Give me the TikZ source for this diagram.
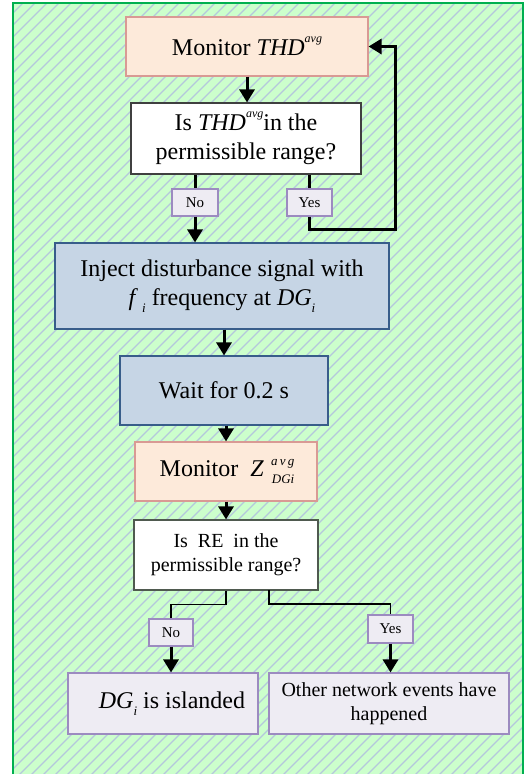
\documentclass[tikz,border=0pt]{standalone}
\usepackage{fontspec}
\setmainfont{Liberation Serif}
\usetikzlibrary{arrows.meta}
\definecolor{bggreen}{HTML}{CCFFCC}
\definecolor{hatchc}{HTML}{B4C8DC}
\definecolor{frameg}{HTML}{00B050}
\definecolor{peachf}{HTML}{FDEADA}
\definecolor{peachd}{HTML}{D99A94}
\definecolor{bluef}{HTML}{C6D5E5}
\definecolor{blued}{HTML}{385D8A}
\definecolor{lavf}{HTML}{EEECF3}
\definecolor{lavd}{HTML}{9C8BC0}
\definecolor{grayd}{HTML}{404040}
\definecolor{grayg}{HTML}{4F5A4F}
\newcommand{\supit}[1]{\raisebox{0.55em}{\fontsize{12}{12}\selectfont\itshape #1}}
\newcommand{\subit}[1]{\raisebox{-0.3em}{\fontsize{13}{13}\selectfont\itshape #1}}
\newcommand{\stackit}[2]{\raisebox{-7pt}{\fontsize{13}{13}\selectfont\itshape #2}\llap{\raisebox{11.5pt}{\fontsize{13}{13}\selectfont\itshape a\,v\,g}}}
\tikzset{
  basebox/.style={draw, line width=1.1pt, inner sep=2pt, align=center,
    font=\fontsize{24}{29}\selectfont},
  peachbox/.style={basebox, fill=peachf, draw=peachd},
  bluebox/.style={basebox, fill=bluef, draw=blued},
  decbox/.style={basebox, fill=white, draw=grayd},
  lavbox/.style={basebox, fill=lavf, draw=lavd},
  tagbox/.style={draw=lavd, fill=lavf, line width=1.1pt, inner sep=1pt,
    font=\fontsize{15}{15}\selectfont},
  arr/.style={line width=3pt, -{Triangle[width=15pt,length=13pt]}},
  ln/.style={line width=3pt},
  thinln/.style={line width=1.8pt},
}
\begin{document}
\begin{tikzpicture}[x=1pt,y=-1pt]
\useasboundingbox (0,0) rectangle (526,774);
\begin{scope}
  \clip (13,3) rectangle (523,790);
  \fill[bggreen] (13,3) rectangle (523,790);
  \foreach \i in {-800,-788,...,530}
    \draw[hatchc, line width=1.3pt] (\i,790) -- (\i+790,0);
\end{scope}
\draw[frameg, line width=1.5pt] (13,790) -- (13,3) -- (523,3) -- (523,790);

% nodes
\node[peachbox, minimum width=242pt, minimum height=59pt] (mon1) at (247,46.5)
  {Monitor \textit{THD}\supit{avg}};
\node[decbox, minimum width=230pt, minimum height=71pt] (dec1) at (246,138.5)
  {Is \textit{THD}\supit{avg}in the\\permissible range?};
\node[tagbox, minimum width=46pt, minimum height=27pt] (no1) at (195,202.5) {No};
\node[tagbox, minimum width=45pt, minimum height=27pt] (yes1) at (309.5,202.5) {Yes};
\node[bluebox, minimum width=334pt, minimum height=86pt] (inj) at (222,286)
  {Inject disturbance signal with\\ \textit{f}\,\subit{i} frequency at \textit{DG}\subit{i}};
\node[bluebox, minimum width=208pt, minimum height=69pt] (wait) at (224,390.5)
  {Wait for 0.2 s};
\node[peachbox, minimum width=182pt, minimum height=59pt] (mon2) at (226,471.5)
  {\hspace{2pt}Monitor~~\textit{Z}\hspace{8pt}\stackit{avg}{DGi}};
\node[decbox, draw=grayg, minimum width=184pt, minimum height=70pt,
  font=\fontsize{20}{24}\selectfont] (dec2) at (226,555)
  {Is~~RE~~in the\\permissible range?};
\node[tagbox, minimum width=44pt, minimum height=27pt] (no2) at (171,632.5) {No};
\node[tagbox, minimum width=45pt, minimum height=28pt] (yes2) at (390.5,629) {Yes};
\node[lavbox, minimum width=190pt, minimum height=61pt] (isl) at (163,703.5)
  {\hspace{18pt}\textit{DG}\subit{i} is islanded};
\node[lavbox, minimum width=240pt, minimum height=61pt,
  font=\fontsize{20}{24}\selectfont] (oth) at (389,703.5)
  {Other network events have\\happened};

% connectors
\draw[arr] (mon1.south) -- (mon1.south |- dec1.north);
\draw[ln] (dec1.south -| no1) -- (no1.north);
\draw[arr] (no1.south) -- (no1.south |- inj.north);
\draw[ln] (dec1.south -| yes1) -- (yes1.north);
\coordinate (c1) at (395,229);
\draw[arr] (yes1.south) |- (c1) |- (mon1.east);
\draw[arr] (wait.north |- inj.south) -- (wait.north);
\draw[arr] (mon2.north |- wait.south) -- (mon2.north);
\draw[arr] (mon2.south) -- (dec2.north);
\draw[thinln] (dec2.south) -- ++(0,14) -| (no2.north);
\coordinate (r0) at (269,590);
\draw[thinln] (r0) -- ++(0,14) -| (yes2.north);
\draw[arr] (no2.south) -- (no2.south |- isl.north);
\draw[arr] (yes2.south) -- (yes2.south |- oth.north);
\end{tikzpicture}
\end{document}
